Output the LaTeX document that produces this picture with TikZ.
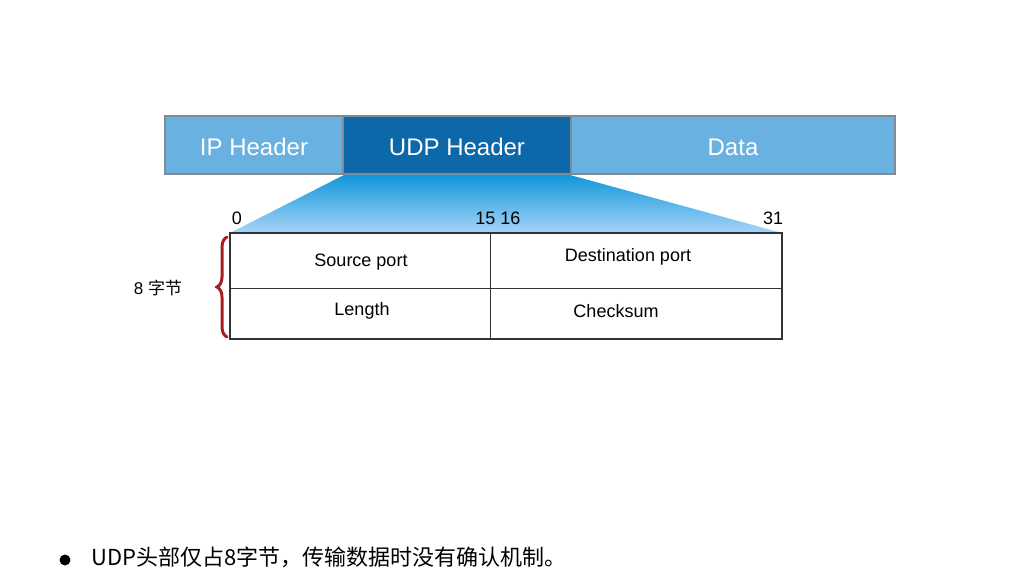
\documentclass[tikz,border=0pt]{standalone}
\usepackage{fontspec}
\setmainfont{Liberation Sans}
\newfontfamily\cjk{Noto Sans CJK SC}
\usetikzlibrary{decorations.pathreplacing}
\definecolor{lightblue}{HTML}{69B1E0}
\definecolor{darkblue}{HTML}{0C68A9}
\definecolor{gradtop}{HTML}{1197DA}
\definecolor{gradbot}{HTML}{A6D4F8}
\definecolor{bracered}{HTML}{A81E1E}
\definecolor{edgegrey}{HTML}{7F8C94}
\begin{document}
\begin{tikzpicture}[x=1pt,y=-1pt,
  seg/.style={draw=edgegrey,line width=1.5pt,text=white,font=\fontsize{24}{28}\selectfont,inner sep=0pt},
  cell/.style={font=\fontsize{18}{21}\selectfont,text=black},
  bitnum/.style={font=\fontsize{18}{21}\selectfont,text=black,anchor=base}]
\useasboundingbox[fill=white] (0,0) rectangle (1032,580);
% top bar
\path[seg,fill=lightblue] (165,116) rectangle (343,174);
\path[seg,fill=lightblue] (571,116) rectangle (895,174);
\path[seg,fill=darkblue] (343,116) rectangle (571,174);
\node[seg,draw=none] (ip) at (254,147) {IP Header};
\node[seg,draw=none] (udp) at (457,147) {UDP Header};
\node[seg,draw=none] (data) at (733,147) {Data};
% expansion trapezoid
\shade[top color=gradtop,bottom color=gradbot] (344,175) -- (570,175) -- (782,233) -- (230,233) -- cycle;
% bit numbers
\node[bitnum] (b0) at (237,224) {0};
\node[bitnum] (b15) at (498,224) {15 16};
\node[bitnum] (b31) at (773,224) {31};
% header table
\draw[line width=1.1pt,draw=black!80,fill=white] (230,233) rectangle (782,339);
\draw[line width=0.9pt,draw=black!80] (230,288) -- (782,288);
\draw[line width=0.9pt,draw=black!80] (490,233) -- (490,339);
\node[cell] (src) at (361,262) {Source port};
\node[cell] (dst) at (628,257) {Destination port};
\node[cell] (len) at (362,311) {Length};
\node[cell] (chk) at (616,311) {Checksum};
% brace
\draw[bracered,line width=3pt,line cap=round,decorate,decoration={brace,amplitude=10pt,aspect=0.5}]
  (227,337) -- (227,237);
\node[font=\fontsize{17}{20}\selectfont] (bytes) at (158,288) {8 {\cjk 字节}};
% bullet
\fill (65,560) circle (5.5);
\node[anchor=west,font=\cjk\fontsize{22}{26}\selectfont,inner sep=0pt] (note) at (91,557) {UDP头部仅占8字节，传输数据时没有确认机制。};
\end{tikzpicture}
\end{document}
